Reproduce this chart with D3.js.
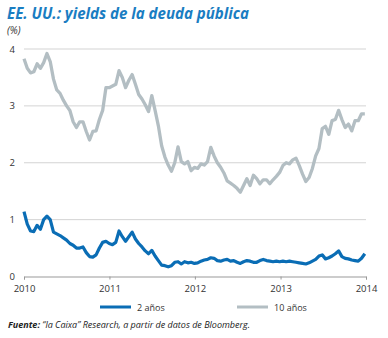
<!DOCTYPE html>
<html><head><meta charset="utf-8">
<script src="https://cdn.jsdelivr.net/npm/d3@7"></script>
<style>body{margin:0;background:#fff;}svg{display:block;}</style>
</head><body><div id="chart"></div>
<script>
// Data: bi-weekly observations from 1 Jan 2010
const startDate = "2010-01-01";
const stepDays = 14;
const yields10 = [3.83,3.66,3.58,3.60,3.74,3.66,3.76,3.92,3.78,3.47,3.28,3.22,3.10,3.00,2.92,2.72,2.62,2.72,2.72,2.55,
2.40,2.55,2.56,2.76,2.92,3.32,3.32,3.35,3.38,3.62,3.50,3.32,3.45,3.55,3.38,3.20,3.12,3.02,2.90,3.18,
2.92,2.65,2.30,2.10,1.96,1.85,2.00,2.28,2.02,1.98,2.02,1.86,1.92,1.90,1.98,1.96,2.02,2.27,2.12,2.00,
1.92,1.82,1.68,1.64,1.60,1.55,1.48,1.60,1.72,1.60,1.78,1.72,1.63,1.70,1.70,1.63,1.70,1.76,1.83,1.95,
2.00,1.98,2.05,2.08,1.95,1.80,1.67,1.74,1.90,2.12,2.25,2.60,2.64,2.50,2.74,2.76,2.92,2.76,2.62,2.68,
2.56,2.74,2.74,2.86,2.86];
const yields2 = [1.14,0.92,0.80,0.79,0.90,0.83,1.00,1.06,1.00,0.78,0.75,0.72,0.68,0.64,0.58,0.55,0.50,0.50,0.52,0.42,
0.35,0.34,0.38,0.50,0.60,0.62,0.58,0.56,0.60,0.80,0.70,0.62,0.70,0.78,0.66,0.58,0.52,0.45,0.40,0.46,
0.36,0.28,0.20,0.19,0.17,0.19,0.25,0.26,0.22,0.26,0.24,0.25,0.23,0.24,0.27,0.29,0.30,0.33,0.32,0.28,
0.27,0.29,0.30,0.27,0.28,0.25,0.23,0.26,0.28,0.27,0.25,0.25,0.28,0.30,0.28,0.27,0.26,0.27,0.26,0.27,
0.26,0.27,0.26,0.25,0.24,0.23,0.22,0.24,0.27,0.30,0.36,0.38,0.31,0.33,0.36,0.40,0.45,0.35,0.32,0.31,
0.29,0.28,0.27,0.32,0.40];
const yTicks = [0,1,2,3,4];
const xTickYears = ["2010","2011","2012","2013","2014"];
const seriesNames = ["2 años","10 años"];
const seriesColors = ["#0a6db5","#b3bec3"];

const W = 388, H = 338;
const svg = d3.select("#chart").append("svg").attr("width", W).attr("height", H);
const parse = d3.timeParse("%Y-%m-%d");
const t0 = parse(startDate);
const dates = yields10.map((_, i) => d3.timeDay.offset(t0, i * stepDays));

const x = d3.scaleTime().domain([parse("2010-01-01"), parse("2014-01-01")]).range([24, 366]);
const y = d3.scaleLinear().domain([0, 4]).range([276.5, 49]);

// title
svg.append("text").attr("x", 7).attr("y", 19)
  .attr("font-family", "'Open Sans', sans-serif").attr("font-weight", "bold").attr("font-style", "italic")
  .attr("font-size", 16).attr("fill", "#1a7dc2").attr("textLength", 242).attr("lengthAdjust","spacingAndGlyphs")
  .text("EE. UU.: yields de la deuda pública");
svg.append("text").attr("x", 7).attr("y", 34)
  .attr("font-family", "'Open Sans', sans-serif").attr("font-style", "italic")
  .attr("font-size", 10).attr("fill", "#333").text("(%)");

// grid
svg.append("g").selectAll("line").data(yTicks.filter(d => d > 0)).join("line")
  .attr("x1", 24).attr("x2", 366).attr("y1", d => y(d)).attr("y2", d => y(d))
  .attr("stroke", "#c8c8c8").attr("stroke-width", 0.8);
svg.append("g").selectAll("text").data(yTicks).join("text")
  .attr("x", 15).attr("y", d => y(d) + 3.5).attr("text-anchor", "end")
  .attr("font-family", "'Open Sans', sans-serif").attr("font-size", 9.5).attr("fill", "#333")
  .text(d => d);

// x axis
const xAxis = d3.axisBottom(x)
  .tickValues(xTickYears.map(s => parse(s + "-01-01")))
  .tickFormat(d3.timeFormat("%Y")).tickSize(3).tickPadding(6);
const gx = svg.append("g").attr("transform", `translate(0,${y(0)})`).call(xAxis);
gx.select(".domain").attr("stroke", "#999").attr("stroke-width", 1);
gx.selectAll(".tick line").attr("stroke", "#999");
gx.selectAll("text").attr("font-family", "'Open Sans', sans-serif").attr("font-size", 9.5).attr("fill", "#333");

// lines
const line = d3.line().x((d, i) => x(dates[i])).y(d => y(d)).curve(d3.curveLinear);
svg.append("path").datum(yields10).attr("d", line).attr("fill", "none")
  .attr("stroke", seriesColors[1]).attr("stroke-width", 3.3).attr("stroke-linejoin", "round");
svg.append("path").datum(yields2).attr("d", line).attr("fill", "none")
  .attr("stroke", seriesColors[0]).attr("stroke-width", 3.2).attr("stroke-linejoin", "round");

// legend
const legX = [100, 237], legTx = [137, 274];
seriesNames.forEach((n, i) => {
  svg.append("line").attr("x1", legX[i]).attr("x2", legX[i] + 31).attr("y1", 307).attr("y2", 307)
    .attr("stroke", seriesColors[i]).attr("stroke-width", 3);
  svg.append("text").attr("x", legTx[i]).attr("y", 310.5)
    .attr("font-family", "'Open Sans', sans-serif").attr("font-size", 9).attr("fill", "#333").text(n);
});

// source
const src = svg.append("text").attr("x", 8).attr("y", 328)
  .attr("font-family", "'Open Sans', sans-serif").attr("font-style", "italic").attr("font-size", 9).attr("fill", "#222")
  .attr("textLength", 242).attr("lengthAdjust", "spacingAndGlyphs");
src.append("tspan").attr("font-weight", "bold").text("Fuente: ");
src.append("tspan").text("\u201Cla Caixa\u201D Research, a partir de datos de Bloomberg.");
</script></body></html>
